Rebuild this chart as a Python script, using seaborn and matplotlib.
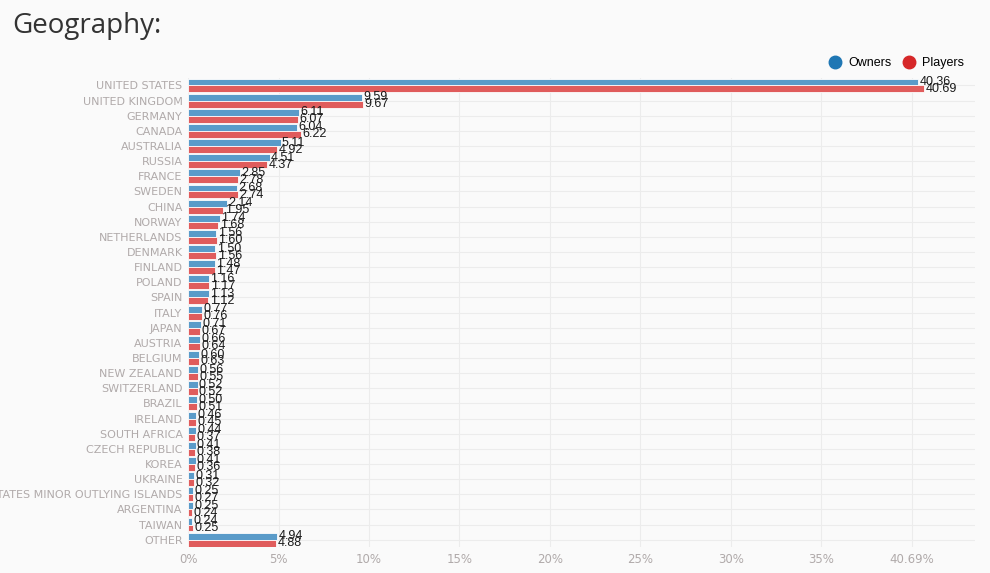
import pandas as pd
import matplotlib
matplotlib.use('Agg')
import matplotlib.pyplot as plt
from matplotlib.lines import Line2D
import seaborn as sns

countries = ['UNITED STATES', 'UNITED KINGDOM', 'GERMANY', 'CANADA', 'AUSTRALIA', 'RUSSIA',
             'FRANCE', 'SWEDEN', 'CHINA', 'NORWAY', 'NETHERLANDS', 'DENMARK', 'FINLAND',
             'POLAND', 'SPAIN', 'ITALY', 'JAPAN', 'AUSTRIA', 'BELGIUM', 'NEW ZEALAND',
             'SWITZERLAND', 'BRAZIL', 'IRELAND', 'SOUTH AFRICA', 'CZECH REPUBLIC', 'KOREA',
             'UKRAINE', 'UNITED STATES MINOR OUTLYING ISLANDS', 'ARGENTINA', 'TAIWAN', 'OTHER']
owners = [40.36, 9.59, 6.11, 6.04, 5.11, 4.51, 2.85, 2.68, 2.14, 1.74, 1.56, 1.50, 1.48,
          1.16, 1.13, 0.77, 0.71, 0.66, 0.60, 0.56, 0.52, 0.50, 0.46, 0.44, 0.41, 0.41,
          0.31, 0.25, 0.25, 0.24, 4.94]
players = [40.69, 9.67, 6.07, 6.22, 4.92, 4.37, 2.78, 2.74, 1.95, 1.68, 1.60, 1.56, 1.47,
           1.17, 1.12, 0.76, 0.67, 0.64, 0.63, 0.55, 0.52, 0.51, 0.45, 0.37, 0.38, 0.36,
           0.32, 0.27, 0.24, 0.25, 4.88]
xticks = [0, 5, 10, 15, 20, 25, 30, 35, 40]
xticklabels = ['0%', '5%', '10%', '15%', '20%', '25%', '30%', '35%', '40.69%']

df = pd.DataFrame({'country': countries * 2,
                   'share': owners + players,
                   'group': ['Owners'] * len(countries) + ['Players'] * len(countries)})

bg = '#fafafa'
fig = plt.figure(figsize=(9.9, 5.73), dpi=100, facecolor=bg)
ax = fig.add_axes([0.19, 0.045, 0.795, 0.819])
ax.set_facecolor(bg)

sns.barplot(data=df, x='share', y='country', hue='group', orient='h', ax=ax,
            palette={'Owners': '#5a9bc9', 'Players': '#e05c5c'}, saturation=1,
            width=0.92, edgecolor='#fdfdfd', linewidth=0.6, legend=False, zorder=3)

for cont in ax.containers:
    ax.bar_label(cont, fmt='%.2f', padding=1, fontsize=9, color='#1a1a1a',
                 family='Liberation Sans')

ax.set_xlim(0, 43.5)
ax.set_xticks(xticks)
ax.set_xticklabels(xticklabels)
ax.set_xlabel('')
ax.set_ylabel('')
ax.grid(True, color='#ececec', linewidth=0.8, zorder=0)
ax.set_axisbelow(True)
for s in ax.spines.values():
    s.set_visible(False)
ax.tick_params(length=0, pad=4)
for lab in ax.get_xticklabels():
    lab.set_color('#b0aaaa')
    lab.set_fontsize(8.5)
    lab.set_family('DejaVu Sans')
for lab in ax.get_yticklabels():
    lab.set_color('#b0aaaa')
    lab.set_fontsize(8)
    lab.set_family('DejaVu Sans')

fig.text(0.012, 0.955, 'Geography:', fontsize=20, color='#333333', va='center',
         family='Open Sans')

handles = [Line2D([], [], marker='o', linestyle='', markersize=9, color='#1f77b4'),
           Line2D([], [], marker='o', linestyle='', markersize=9, color='#d62728')]
fig.legend(handles, ['Owners', 'Players'], loc='center right', bbox_to_anchor=(0.985, 0.89),
           ncol=2, frameon=False, handletextpad=0.05, columnspacing=0.4,
           prop={'family': 'Liberation Sans', 'size': 9})

fig.savefig('out.png', dpi=100, facecolor=bg)
